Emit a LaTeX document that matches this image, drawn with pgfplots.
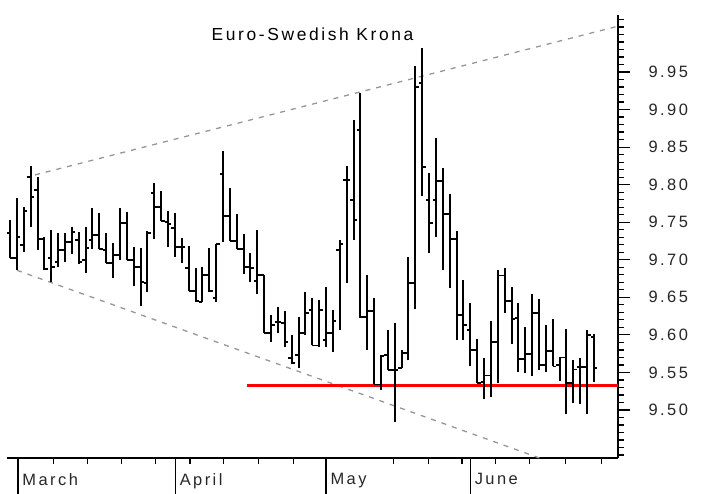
\documentclass[border=0pt]{standalone}
\usepackage{pgfplots}
\pgfplotsset{compat=1.18}
\usepackage{pgfplotstable}
\usepackage{fontspec}
\setmainfont{Liberation Sans}[LetterSpace=15]
\definecolor{dashgray}{RGB}{150,150,150}

\pgfplotstableread{
x o h l c
0 9.736 9.753 9.702 9.702
1 9.702 9.782 9.686 9.730
2 9.720 9.770 9.710 9.765
3 9.810 9.825 9.744 9.784
4 9.793 9.810 9.713 9.728
5 9.728 9.730 9.686 9.688
6 9.702 9.740 9.670 9.690
7 9.697 9.736 9.690 9.713
8 9.713 9.736 9.697 9.724
9 9.724 9.744 9.708 9.737
10 9.726 9.737 9.694 9.697
11 9.700 9.744 9.682 9.716
12 9.726 9.769 9.714 9.733
13 9.733 9.762 9.714 9.714
14 9.713 9.736 9.696 9.696
15 9.696 9.722 9.676 9.706
16 9.706 9.769 9.700 9.749
17 9.749 9.764 9.700 9.700
18 9.700 9.717 9.665 9.690
19 9.690 9.716 9.638 9.670
20 9.669 9.738 9.657 9.736
21 9.789 9.802 9.728 9.770
22 9.770 9.792 9.752 9.752
23 9.750 9.765 9.717 9.748
24 9.742 9.762 9.704 9.717
25 9.717 9.729 9.696 9.717
26 9.689 9.718 9.658 9.658
27 9.658 9.689 9.644 9.645
28 9.644 9.690 9.644 9.680
29 9.680 9.716 9.657 9.658
30 9.649 9.721 9.644 9.721
31 9.814 9.845 9.724 9.758
32 9.758 9.796 9.725 9.725
33 9.725 9.761 9.714 9.714
34 9.714 9.734 9.681 9.690
35 9.690 9.709 9.670 9.689
36 9.672 9.740 9.654 9.680
37 9.680 9.680 9.603 9.603
38 9.603 9.626 9.591 9.613
39 9.617 9.637 9.603 9.617
40 9.616 9.632 9.584 9.591
41 9.569 9.600 9.561 9.563
42 9.573 9.624 9.556 9.603
43 9.603 9.657 9.600 9.629
44 9.633 9.649 9.586 9.586
45 9.586 9.646 9.584 9.633
46 9.593 9.664 9.584 9.603
47 9.603 9.633 9.577 9.619
48 9.713 9.726 9.607 9.721
49 9.806 9.825 9.669 9.806
50 9.780 9.886 9.726 9.753
51 9.873 9.922 9.623 9.624
52 9.624 9.680 9.580 9.632
53 9.632 9.649 9.534 9.534
54 9.534 9.573 9.527 9.572
55 9.573 9.607 9.553 9.553
56 9.553 9.616 9.484 9.553
57 9.556 9.580 9.556 9.576
58 9.576 9.704 9.566 9.669
59 9.669 9.958 9.634 9.930
60 9.935 9.982 9.785 9.824
61 9.780 9.816 9.709 9.749
62 9.780 9.862 9.730 9.805
63 9.805 9.822 9.686 9.761
64 9.761 9.788 9.662 9.728
65 9.728 9.738 9.593 9.627
66 9.627 9.673 9.593 9.613
67 9.607 9.642 9.558 9.580
68 9.580 9.594 9.536 9.536
69 9.537 9.569 9.514 9.546
70 9.546 9.619 9.517 9.591
71 9.591 9.686 9.536 9.679
72 9.679 9.689 9.629 9.645
73 9.645 9.664 9.588 9.621
74 9.623 9.643 9.551 9.568
75 9.568 9.611 9.549 9.575
76 9.575 9.654 9.545 9.629
77 9.629 9.648 9.553 9.560
78 9.560 9.613 9.551 9.579
79 9.579 9.621 9.558 9.558
80 9.560 9.570 9.539 9.570
81 9.570 9.608 9.495 9.536
82 9.536 9.566 9.509 9.554
83 9.557 9.569 9.508 9.557
84 9.557 9.606 9.495 9.600
85 9.597 9.601 9.537 9.556
}\ohlc

\begin{document}
\begin{tikzpicture}
\useasboundingbox (0,0) rectangle (704bp,494bp);
\begin{axis}[
  at={(7bp,36bp)}, anchor=south west,
  scale only axis, width=611bp, height=443bp,
  xmin=-0.44, xmax=88.5, ymin=9.4361, ymax=10.0259,
  axis x line*=bottom, axis y line*=right,
  axis line style={-, black, line width=1.3bp},
  tick align=outside,
  tick style={black, line width=1.2bp},
  major tick length=12bp, minor tick length=6bp,
  xtick={1.15,24.05,46,67},
  xticklabels={},
  minor xtick={6.3,11.3,16.2,21.2,26.2,31.1,36.2,41.3,55.8,60.9,65.8,70.7,75.6,80.9,86.1},
  extra x ticks={1.15,24.05,46,67},
  extra x tick labels={March,April,May,June},
  extra x tick style={major tick length=36bp, tick label style={anchor=north west, xshift=1bp, yshift=24bp}},
  ytick={9.50,9.55,9.60,9.65,9.70,9.75,9.80,9.85,9.90,9.95},
  minor ytick={9.44,9.45,9.46,9.47,9.48,9.49,9.51,9.52,9.53,9.54,9.56,9.57,9.58,9.59,9.61,9.62,9.63,9.64,9.66,9.67,9.68,9.69,9.71,9.72,9.73,9.74,9.76,9.77,9.78,9.79,9.81,9.82,9.83,9.84,9.86,9.87,9.88,9.89,9.91,9.92,9.93,9.94,9.96,9.97,9.98,9.99,10.00,10.01,10.02},
  yticklabel pos=right,
  yticklabel style={anchor=west, xshift=15bp, /pgf/number format/.cd, fixed, fixed zerofill, precision=2, assume math mode=true},
  tick label style={font=\fontsize{16.5}{19}\selectfont, text=black!85},
  title={Euro-Swedish Krona},
  title style={at={(0.5,1)}, anchor=north, yshift=-15bp, font=\fontsize{17.5}{20}\selectfont},
  clip=false,
]
% trend lines
\addplot[dashgray, line width=1.3bp, dash pattern=on 5bp off 6bp] coordinates {(3.64,9.813) (88.5,10.011)};
\addplot[dashgray, line width=1.3bp, dash pattern=on 5bp off 6bp] coordinates {(1.02,9.686) (77.1,9.436)};
% support line
\addplot[red, line width=3bp] coordinates {(34.5,9.532) (88.5,9.532)};
% high-low bars
\addplot[black, line width=2bp, -, mark=none, quiver={u=0, v=\thisrow{h}-\thisrow{l}}] table[x=x, y=l] {\ohlc};
% open ticks
\addplot[black, line width=1.8bp, -, mark=none, quiver={u=-0.5, v=0}] table[x=x, y=o] {\ohlc};
% close ticks
\addplot[black, line width=1.8bp, -, mark=none, quiver={u=0.5, v=0}] table[x=x, y=c] {\ohlc};
\end{axis}
\end{tikzpicture}
\end{document}
